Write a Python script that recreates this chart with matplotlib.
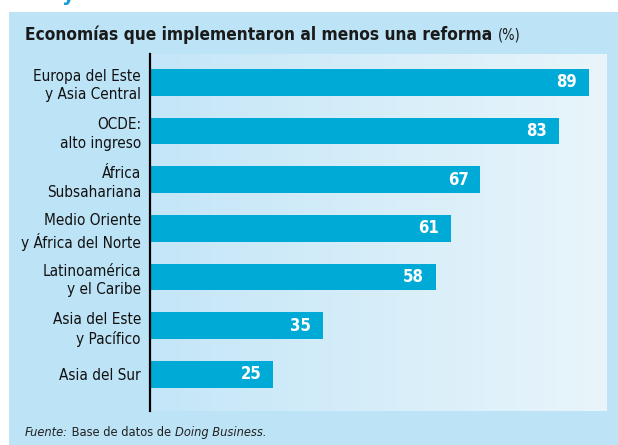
import numpy as np
import matplotlib
matplotlib.use("Agg")
import matplotlib.pyplot as plt
from matplotlib.patches import Rectangle
from matplotlib.colors import LinearSegmentedColormap

plt.rcParams['font.family'] = ['DejaVu Sans']
plt.rcParams['font.stretch'] = 'condensed'

regiones = ["Europa del Este\ny Asia Central", "OCDE:\nalto ingreso", "África\nSubsahariana",
            "Medio Oriente\ny África del Norte", "Latinoamérica\ny el Caribe",
            "Asia del Este\ny Pacífico", "Asia del Sur"]
valores = [89, 83, 67, 61, 58, 35, 25]

panel = "#bde3f6"
barra = "#00aad6"

fig = plt.figure(figsize=(6.18, 4.45), dpi=100)
fig.patch.set_facecolor("white")
fig.patches.append(Rectangle((9 / 618, 0), 1, 1 - 12 / 445, transform=fig.transFigure,
                             facecolor=panel, edgecolor="none", zorder=-5))
# letra cortada arriba
fig.text(62 / 618, 1.012, "y", color="#1a9ad6", fontsize=16, fontweight="bold", va="center")

ax = fig.add_axes([150 / 618, 34 / 445, 457 / 618, 357 / 445])
xmax = 92.7
ylim = (6.75, -0.58)
grad = LinearSegmentedColormap.from_list("g", ["#c4e6f8", "#e9f5fb"])
ax.imshow(np.linspace(0, 1, 256).reshape(1, -1), cmap=grad, aspect="auto",
          extent=[0, xmax, ylim[0], ylim[1]], zorder=0)
y = np.arange(len(regiones))
ax.barh(y, valores, height=0.55, color=barra, zorder=2)
for yi, v in zip(y, valores):
    ax.text(v - 2.4, yi, str(v), color="white", fontsize=12, fontweight="bold",
            ha="right", va="center", zorder=3)
ax.set_xlim(0, xmax)
ax.set_ylim(*ylim)
ax.set_yticks(y)
ax.set_yticklabels(regiones, fontsize=11, linespacing=1.3, color="#111111")
ax.tick_params(axis="y", length=0, pad=6.5)
ax.set_xticks([])
for s in ["top", "right", "bottom"]:
    ax.spines[s].set_visible(False)
ax.spines["left"].set_linewidth(1.6)
ax.spines["left"].set_zorder(4)

fig.canvas.draw()
r = fig.canvas.get_renderer()
inv = fig.transFigure.inverted()

def tira(x, yy, piezas):
    for txt, kw in piezas:
        t = fig.text(x, yy, txt, va="baseline", **kw)
        bb = t.get_window_extent(renderer=r)
        x = inv.transform((bb.x1, bb.y0))[0]

tira(25 / 618, 1 - 40 / 445, [("Economías que implementaron al menos una reforma ",
                              dict(fontsize=12.4, fontweight="bold", color="#1a1a1a")),
                             ("(%)", dict(fontsize=10.5, color="#1a1a1a"))])
tira(25 / 618, 1 - 436 / 445, [("Fuente:", dict(fontsize=9.2, style="italic", color="#222222")),
                              (" Base de datos de ", dict(fontsize=9.2, color="#222222")),
                              ("Doing Business.", dict(fontsize=9.2, style="italic", color="#222222"))])

fig.savefig("out.png", dpi=100)
